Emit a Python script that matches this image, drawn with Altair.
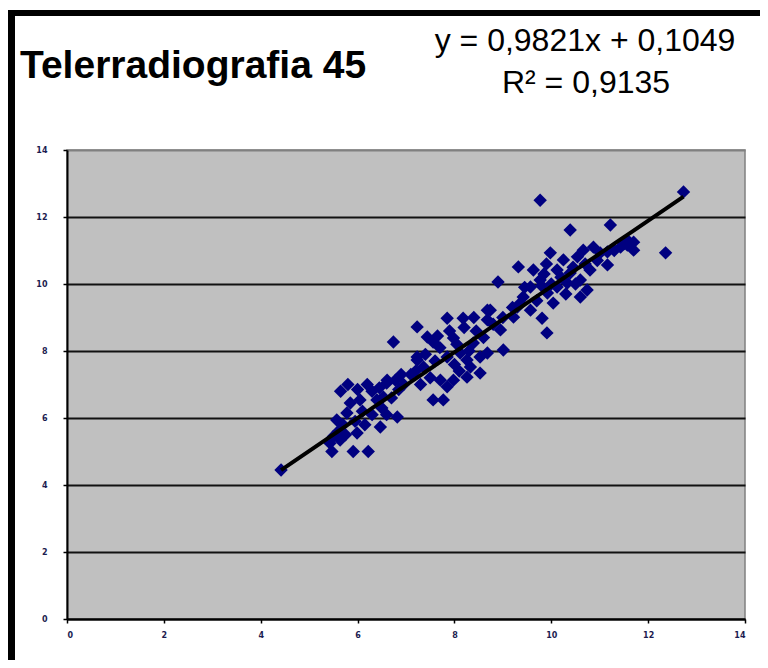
import altair as alt
import pandas as pd

title_text = "Telerradiografia 45"
eq_line1 = "y = 0,9821x + 0,1049"
eq_line2 = "R² = 0,9135"
slope = 0.9821
intercept = 0.1049

x_vals = [4.42, 5.47, 5.91, 6.22, 5.43, 5.64, 5.57, 5.99, 6.47, 6.82, 5.78, 5.85, 6.05, 6.4, 5.8, 6.2, 6.6, 6.95,
          5.6, 5.7, 5.95, 6.1, 6.3, 6.5, 6.3, 6.7, 5.5, 5.75, 6.15, 6.6, 6.0, 5.65, 6.45, 6.85,
          6.74, 7.23, 7.85, 8.18, 8.68, 7.56, 7.98, 9.01, 9.36, 7.23, 7.36, 6.61, 6.78, 7.85, 8.12, 8.39,
          8.53, 8.68, 7.71, 7.98, 8.26, 8.33, 7.56, 7.77, 7.85, 6.53, 7.1, 7.4, 7.6, 7.7, 7.9, 8.05, 8.2,
          8.45, 8.0, 7.5, 7.3, 8.1, 8.6, 8.8, 9.0, 8.4, 7.65, 8.3, 7.2, 6.9, 7.23, 7.44, 8.26, 8.53,
          10.39, 11.22, 9.32, 8.9, 11.16, 9.81, 9.91, 8.74, 8.68, 8.95, 9.22, 9.98, 10.66, 9.63, 9.77,
          10.12, 10.25, 10.54, 9.57, 9.92, 10.33, 10.6, 10.74, 10.6, 10.04, 9.42, 9.3, 9.57, 10.87, 11.01,
          11.43, 11.57, 10.8, 10.39, 10.12, 9.77, 12.73, 12.36, 11.7, 11.57, 11.7, 11.16, 9.85, 10.2,
          10.45, 9.7, 10.0, 10.5, 9.45, 9.9, 10.7, 11.3, 11.5, 10.95, 9.2, 9.8, 10.3]
y_vals = [4.45, 5.0, 5.0, 5.0, 5.25, 5.34, 5.94, 5.55, 5.73, 6.03, 6.15, 6.45, 6.54, 6.54, 7.0, 7.0, 7.04, 7.0,
          5.6, 5.8, 5.9, 6.2, 6.1, 6.3, 6.8, 6.6, 5.45, 5.5, 5.8, 6.1, 6.85, 6.8, 6.9, 6.85,
          8.27, 8.72, 8.98, 8.98, 9.22, 8.27, 8.39, 8.03, 9.43, 7.73, 7.52, 7.13, 7.13, 7.82, 7.94, 8.24,
          7.82, 7.94, 7.13, 7.13, 7.22, 7.52, 6.54, 6.54, 6.93, 6.63, 7.3, 7.9, 7.7, 8.1, 8.6, 8.2, 8.7,
          8.6, 7.6, 7.2, 7.0, 7.4, 8.4, 8.8, 9.0, 9.0, 8.45, 8.0, 7.4, 7.3, 7.82, 8.42, 7.73, 7.34,
          11.61, 11.76, 10.51, 10.06, 10.57, 8.98, 8.54, 9.22, 8.93, 8.63, 9.01, 10.93, 11.01, 10.42, 10.12,
          10.42, 10.72, 10.81, 9.91, 9.73, 10.03, 10.12, 9.82, 9.61, 9.43, 9.61, 9.31, 9.22, 11.1, 10.93,
          11.1, 11.31, 10.42, 10.33, 9.91, 12.5, 12.75, 10.93, 11.25, 11.16, 11.01, 10.96, 10.3, 10.2,
          10.5, 9.5, 10.0, 10.0, 9.9, 10.6, 10.6, 11.0, 11.2, 10.7, 9.3, 9.95, 9.7]

ticks = [0, 2, 4, 6, 8, 10, 12, 14]

df = pd.DataFrame({"x": x_vals, "y": y_vals})
one = pd.DataFrame({"k": [0]})

xscale = alt.Scale(domain=[0, 14], nice=False, zero=True)
yscale = alt.Scale(domain=[0, 14], nice=False, zero=True)

xaxis = alt.Axis(values=ticks, grid=False, title=None, domainColor="black", domainWidth=2,
                 tickColor="black", tickSize=4, tickWidth=1.5, labelFont="DejaVu Sans", labelFontSize=8,
                 labelFontWeight="bold", labelColor="#1c1c50", labelPadding=8)
yaxis = alt.Axis(values=ticks, grid=True,
                 gridColor={"condition": {"test": "datum.value == 14", "value": "#808080"}, "value": "#111111"},
                 gridWidth=2, title=None, domainColor="black", domainWidth=2,
                 tickColor="black", tickSize=4, tickWidth=1.5, labelFont="DejaVu Sans", labelFontSize=8,
                 labelFontWeight="bold", labelColor="#1c1c50", labelPadding=16)

points = alt.Chart(df).mark_point(shape="diamond", filled=True, size=180, color="#000080", opacity=1).encode(
    x=alt.X("x:Q", scale=xscale, axis=xaxis),
    y=alt.Y("y:Q", scale=yscale, axis=yaxis),
)

trend = alt.Chart(df).transform_calculate(
    fit=f"{slope} * datum.x + {intercept}"
).mark_line(color="black", strokeWidth=4).encode(
    x=alt.X("x:Q", scale=xscale),
    y=alt.Y("fit:Q", scale=yscale),
    order="x:Q",
)

title = alt.Chart(one).mark_text(text=title_text, font="Liberation Sans", fontWeight="bold", fontSize=39,
                                 align="left", baseline="alphabetic", color="black").encode(
    x=alt.value(-47), y=alt.value(-72))
eq1 = alt.Chart(one).mark_text(text=eq_line1, font="Liberation Sans", fontSize=32,
                               align="center", baseline="alphabetic", color="black").encode(
    x=alt.value(518), y=alt.value(-99))
eq2 = alt.Chart(one).mark_text(text=eq_line2, font="Liberation Sans", fontSize=32,
                               align="center", baseline="alphabetic", color="black").encode(
    x=alt.value(519), y=alt.value(-57))

top_bar = alt.Chart(one).mark_rect(color="black").encode(
    x=alt.value(-59), x2=alt.value(701), y=alt.value(-140), y2=alt.value(-134))
left_bar = alt.Chart(one).mark_rect(color="black").encode(
    x=alt.value(-59), x2=alt.value(-52), y=alt.value(-140), y2=alt.value(520))

chart = alt.layer(points, trend, title, eq1, eq2, top_bar, left_bar).properties(
    width=678, height=469,
    padding={"left": 59, "top": 142, "right": 15, "bottom": 41},
    autosize=alt.AutoSizeParams(type="none"),
    background="white",
).configure_view(fill="#c0c0c0", stroke="#808080", strokeWidth=1.5)

chart.save("out.html", embed_options={"renderer": "svg", "actions": False})
